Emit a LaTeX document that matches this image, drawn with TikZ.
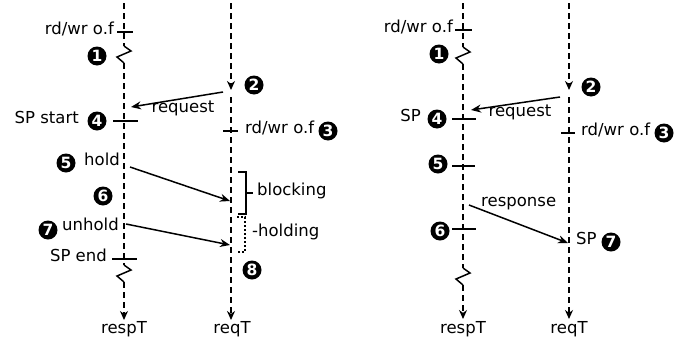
\documentclass[tikz,border=0pt]{standalone}
\usepackage{fontspec}
\setmainfont{DejaVu Sans}
\usetikzlibrary{arrows.meta}
\begin{document}
\begin{tikzpicture}[x=1pt,y=-1pt,
  font=\fontsize{16.5}{18}\selectfont,
  life/.style={line width=1.7pt, dash pattern=on 6pt off 4pt},
  lifeend/.style={life, -{Stealth[length=9pt,width=8pt]}},
  tickmark/.style={line width=1.5pt},
  msg/.style={line width=1.5pt, -{Stealth[length=10pt,width=8pt]}},
  zig/.style={line width=1.5pt, line join=miter},
  num/.style={circle, fill=black, text=white, inner sep=0pt, minimum size=19pt,
              font=\fontsize{15.5}{16}\selectfont\bfseries},
  lbl/.style={inner sep=0pt},
]
\useasboundingbox (0,0) rectangle (690,343);

% ---------------- left scenario ----------------
% respT lifeline with two breaks
\coordinate (LrTop) at (124,3);
\coordinate (LzA) at (124,46);
\coordinate (LzB) at (124,63);
\coordinate (LzC) at (124,265);
\coordinate (LzD) at (124,282);
\coordinate (LrBot) at (124,320);
\draw[life] (LrTop) -- (LzA);
\draw[zig] (LzA) -- ++(7,5) -- ++(-14,6) -- (LzB);
\draw[life] (LzB) -- (LzC);
\draw[zig] (LzC) -- ++(7,5) -- ++(-14,6) -- (LzD);
\draw[lifeend] (LzD) -- (LrBot);
\node[lbl, anchor=base] (LrespT) at (124,333) {respT};

% reqT lifeline
\coordinate (LqTop) at (231,3);
\coordinate (LqArr) at (231,90);
\coordinate (LqRes) at (231,97);
\coordinate (LqBot) at (231,320);
\draw[lifeend] (LqTop) -- (LqArr);
\draw[lifeend] (LqRes) -- (LqBot);
\node[lbl, anchor=base] (LreqT) at (232,333) {reqT};

% ticks and labels on respT
\draw[tickmark] (117,32) coordinate (Lt1a) -- (133,32) coordinate (Lt1b);
\node[lbl, anchor=mid east] (Lrw1) at (114,32) {rd/wr o.f};
\node[num] (Ln1) at (97,56) {1};
\node[num] (Ln2) at (254,85) {2};

\draw[tickmark] (113,121) coordinate (Lt4a) -- (138,121) coordinate (Lt4b);
\node[lbl, anchor=mid east] (LSPs) at (79,121) {SP start};
\node[num] (Ln4) at (97,121) {4};

\draw[tickmark] (223,131) coordinate (Lt3a) -- (238,131) coordinate (Lt3b);
\node[lbl, anchor=mid west] (Lrw3) at (245,131) {rd/wr o.f};
\node[num] (Ln3) at (328,131) {3};

\draw[tickmark] (112,259) coordinate (Lt8a) -- (137,259) coordinate (Lt8b);
\node[lbl, anchor=mid east] (LSPe) at (107,259) {SP end};

% request message
\coordinate (LreqFrom) at (223,92);
\coordinate (LreqTo) at (131,107);
\draw[msg] (LreqFrom) -- (LreqTo);
\node[lbl, anchor=mid] (Lreqlbl) at (183,110) {request};

% hold / unhold messages
\node[num] (Ln5) at (66,163) {5};
\node[lbl, anchor=mid west] (Lhold) at (84,163) {hold};
\coordinate (LholdFrom) at (130,167);
\coordinate (LholdTo) at (230,201);
\draw[msg] (LholdFrom) -- (LholdTo);

\node[num] (Ln6) at (103,196) {6};

\node[num] (Ln7) at (48,230) {7};
\node[lbl, anchor=mid west] (Lunhold) at (62,228) {unhold};
\coordinate (LunFrom) at (126,224);
\coordinate (LunTo) at (230,245);
\draw[msg] (LunFrom) -- (LunTo);

\node[num] (Ln8) at (252,270) {8};

% blocking and holding brackets
\draw[line width=1.5pt] (238,172) -- (246,172) -- (246,214) -- (238,214);
\draw[line width=1.5pt] (246,193) -- (253,193);
\node[lbl, anchor=mid west] (Lblock) at (257,193) {blocking};
\draw[line width=1.5pt, dash pattern=on 2pt off 2pt] (237,217) -- (245,217) -- (245,252) -- (237,252);
\node[lbl, anchor=mid west] (Lholding) at (252,234) {-holding};

% ---------------- right scenario ----------------
\coordinate (RrTop) at (463,3);
\coordinate (RzA) at (463,47);
\coordinate (RzB) at (463,64);
\coordinate (RzC) at (463,268);
\coordinate (RzD) at (463,285);
\coordinate (RrBot) at (463,319);
\draw[life] (RrTop) -- (RzA);
\draw[zig] (RzA) -- ++(7,5) -- ++(-14,6) -- (RzB);
\draw[life] (RzB) -- (RzC);
\draw[zig] (RzC) -- ++(7,5) -- ++(-14,6) -- (RzD);
\draw[lifeend] (RzD) -- (RrBot);
\node[lbl, anchor=base] (RrespT) at (463,333) {respT};

\coordinate (RqTop) at (569,3);
\coordinate (RqArr) at (569,90);
\coordinate (RqRes) at (569,97);
\coordinate (RqBot) at (569,319);
\draw[lifeend] (RqTop) -- (RqArr);
\draw[lifeend] (RqRes) -- (RqBot);
\node[lbl, anchor=base] (RreqT) at (569,333) {reqT};

\draw[tickmark] (455,30) coordinate (Rt1a) -- (472,30) coordinate (Rt1b);
\node[lbl, anchor=mid east] (Rrw1) at (453,30) {rd/wr o.f};
\node[num] (Rn1) at (439,54) {1};
\node[num] (Rn2) at (591,87) {2};

\coordinate (RreqFrom) at (560,97);
\coordinate (RreqTo) at (471,110);
\draw[msg] (RreqFrom) -- (RreqTo);
\node[lbl, anchor=mid] (Rreqlbl) at (520,114) {request};

\draw[tickmark] (452,119) coordinate (Rt4a) -- (476,119) coordinate (Rt4b);
\node[lbl, anchor=mid east] (RSP) at (421,119) {SP};
\node[num] (Rn4) at (437,119) {4};

\draw[tickmark] (561,133) coordinate (Rt3a) -- (575,133) coordinate (Rt3b);
\node[lbl, anchor=mid west] (Rrw3) at (581,133) {rd/wr o.f};
\node[num] (Rn3) at (664,133) {3};

\draw[tickmark] (452,166) coordinate (Rt5a) -- (475,166) coordinate (Rt5b);
\node[num] (Rn5) at (438,164) {5};

\coordinate (RrespFrom) at (469,205);
\coordinate (RrespTo) at (568,243);
\draw[msg] (RrespFrom) -- (RrespTo);
\node[lbl, anchor=mid west] (Rresplbl) at (481,204) {response};

\draw[tickmark] (452,229) coordinate (Rt6a) -- (476,229) coordinate (Rt6b);
\node[num] (Rn6) at (440,231) {6};

\node[lbl, anchor=mid west] (RSP7) at (576,242) {SP};
\node[num] (Rn7) at (611,242) {7};
\end{tikzpicture}
\end{document}
